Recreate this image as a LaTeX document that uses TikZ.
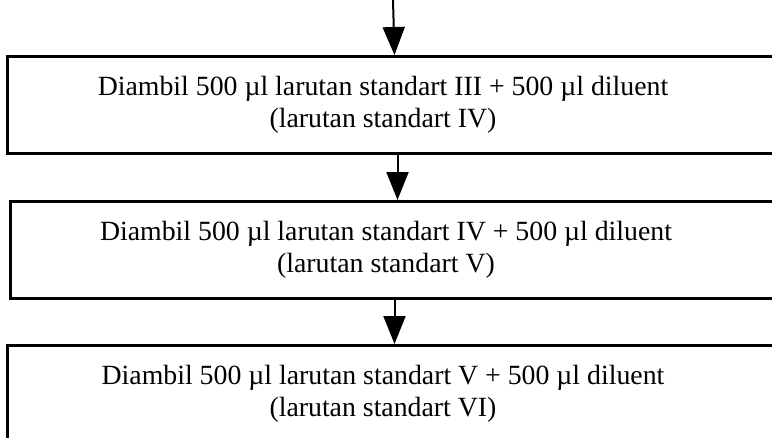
\documentclass[tikz,border=0pt]{standalone}
\usepackage{fontspec}
\setmainfont{Liberation Serif}
\usetikzlibrary{arrows.meta}
\begin{document}
\begin{tikzpicture}[x=1pt,y=-1pt,
  box/.style={draw,line width=3pt,minimum width=774pt,minimum height=97pt,inner sep=0pt,anchor=north west},
  txt/.style={align=center,font=\fontsize{27.8}{32}\selectfont,inner sep=0pt},
  arr/.style={line width=2pt,-{Triangle[width=22pt,length=28pt]}}]
\useasboundingbox (0,0) rectangle (772,437);
\clip (0,0) rectangle (772,437);
\fill[white] (0,0) rectangle (772,437);
\node[box] (b1) at (6,55) {};
\node[box] (b2) at (9,200) {};
\node[box] (b3) at (6,344) {};
\node[txt] (t1) at (383,105) {Diambil 500 µl larutan standart III + 500 µl diluent\\(larutan standart IV)};
\node[txt] (t2) at (386,250) {Diambil 500 µl larutan standart IV + 500 µl diluent\\(larutan standart V)};
\node[txt] (t3) at (383,394) {Diambil 500 µl larutan standart V + 500 µl diluent\\(larutan standart VI)};
\coordinate (top) at (393,0);
\draw[arr] (top) -- (b1.north);
\draw[arr] (b1.south -| b2.north) -- (b2.north);
\draw[arr] (b2.south -| b3.north) -- (b3.north);
\end{tikzpicture}
\end{document}
